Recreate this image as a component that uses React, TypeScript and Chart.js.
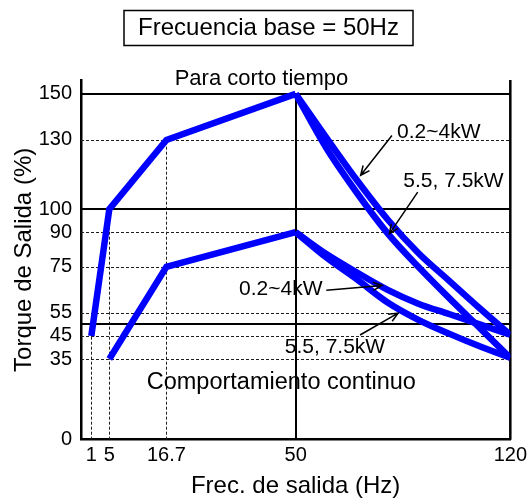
import React, { useEffect, useRef } from 'react';
import { Chart, LinearScale, registerables } from 'chart.js';

// ---------------- data (Hz, torque %) ----------------
const X_TICKS = [1, 5, 16.7, 50, 120];
const Y_TICKS = [0, 35, 45, 55, 75, 90, 100, 130, 150];

const SHORT_RAMP_HZ = [1, 5, 16.7, 50];
const SHORT_RAMP_TQ = [45, 100, 130, 150];
const CONT_RAMP_HZ = [5, 16.7, 50];
const CONT_RAMP_TQ = [35, 75, 90];

const FALL_HZ = [50, 60, 70, 80, 90, 100, 110, 120];
const SHORT_SMALL_TQ = [150, 131, 112.5, 95.5, 81, 69, 57, 45.5]; // 0.2~4kW
const SHORT_LARGE_TQ = [150, 126.5, 107, 89.5, 75, 61.5, 48.5, 35.5]; // 5.5, 7.5kW
const CONT_SMALL_TQ = [90, 80.5, 72.5, 65, 59, 54.5, 50, 45.5]; // 0.2~4kW
const CONT_LARGE_TQ = [90, 79, 69.5, 59.5, 52, 46, 40.5, 35.5]; // 5.5, 7.5kW

// reference lines
const SOLID_Y = [50, 100, 150];
const DOTTED_Y = [35, 45, 55, 75, 90, 130];
const DROP_X = [1, 5, 16.7];
const DROP_TOP = [45, 100, 130];
const BASE_HZ = 50;
const BASE_TOP = 150;
const X_MAX = 120;
const Y_MAX = 156;

// texts
const TITLE = 'Frecuencia base = 50Hz';
const X_TITLE = 'Frec. de salida (Hz)';
const Y_TITLE = 'Torque de Salida (%)';
const LABEL_TEXTS = ['Para corto tiempo', 'Comportamiento continuo', '0.2~4kW', '5.5, 7.5kW', '0.2~4kW', '5.5, 7.5kW'];
const LABEL_HZ = [41.2, 46.3, 83.05, 85.1, 35.4, 47.2];
const LABEL_TQ = [156.6, 24.6, 133.5, 112.1, 65.3, 40.2];
const ARROW_FROM_HZ = [81.4, 89.8, 60.0, 71.0];
const ARROW_FROM_TQ = [131.9, 107.4, 64.8, 45.4];
const ARROW_TO_HZ = [71.2, 80.6, 78.2, 83.4];
const ARROW_TO_TQ = [114.7, 89.4, 66.9, 54.9];

// ---------------- styles ----------------
const FONT = "'Liberation Sans', Arial, Helvetica, sans-serif";
const BLUE = '#0000ff';
const LABEL_SIZES = [22, 23.5, 21, 21, 21, 21];
const LABEL_ALIGN: CanvasTextAlign[] = ['center', 'center', 'left', 'left', 'left', 'left'];

// schematic (non-uniform) frequency axis: knots and their fraction of the axis length
const X_KNOTS = [0, 1, 5, 16.7, 50, 120];
const X_KNOT_FRAC = [0, 0.024, 0.066, 0.199, 0.5, 1];

function hzToFrac(v: number): number {
  if (v <= X_KNOTS[0]) return X_KNOT_FRAC[0];
  for (let i = 1; i < X_KNOTS.length; i++) {
    if (v <= X_KNOTS[i]) {
      const t = (v - X_KNOTS[i - 1]) / (X_KNOTS[i] - X_KNOTS[i - 1]);
      return X_KNOT_FRAC[i - 1] + t * (X_KNOT_FRAC[i] - X_KNOT_FRAC[i - 1]);
    }
  }
  const n = X_KNOTS.length - 1;
  return X_KNOT_FRAC[n] + (v - X_KNOTS[n]) * (X_KNOT_FRAC[n] - X_KNOT_FRAC[n - 1]) / (X_KNOTS[n] - X_KNOTS[n - 1]);
}
function fracToHz(f: number): number {
  for (let i = 1; i < X_KNOT_FRAC.length; i++) {
    if (f <= X_KNOT_FRAC[i]) {
      const t = (f - X_KNOT_FRAC[i - 1]) / (X_KNOT_FRAC[i] - X_KNOT_FRAC[i - 1]);
      return X_KNOTS[i - 1] + t * (X_KNOTS[i] - X_KNOTS[i - 1]);
    }
  }
  return X_KNOTS[X_KNOTS.length - 1];
}

class PiecewiseScale extends LinearScale {
  static id = 'piecewise';
  static defaults = { ...(LinearScale as any).defaults };
  getPixelForValue(value: number) {
    return this.getPixelForDecimal(hzToFrac(value));
  }
  getValueForPixel(pixel: number) {
    return fracToHz(this.getDecimalForPixel(pixel));
  }
}

Chart.register(...registerables, PiecewiseScale as any);

const toPoints = (xs: number[], ys: number[]) => xs.map((x, i) => ({ x, y: ys[i] }));

const schematicPlugin = {
  id: 'schematic',
  beforeDatasetsDraw(chart: any) {
    const { ctx, chartArea: ca, scales } = chart;
    const x = scales.x;
    const y = scales.y;
    const seg = (x1: number, y1: number, x2: number, y2: number) => {
      ctx.beginPath();
      ctx.moveTo(x1, y1);
      ctx.lineTo(x2, y2);
      ctx.stroke();
    };
    ctx.save();
    ctx.strokeStyle = '#1e1e1e';
    ctx.lineWidth = 1;
    ctx.setLineDash([3, 2]);
    DOTTED_Y.forEach((v) => {
      const py = Math.round(y.getPixelForValue(v)) + 0.5;
      seg(ca.left, py, ca.right, py);
    });
    DROP_X.forEach((v, i) => {
      const px = Math.round(x.getPixelForValue(v)) + 0.5;
      seg(px, y.getPixelForValue(0), px, y.getPixelForValue(DROP_TOP[i]));
    });
    ctx.setLineDash([]);
    ctx.strokeStyle = '#000';
    ctx.lineWidth = 2;
    SOLID_Y.forEach((v) => {
      const py = Math.round(y.getPixelForValue(v));
      seg(ca.left, py, ca.right, py);
    });
    const bx = Math.round(x.getPixelForValue(BASE_HZ));
    seg(bx, y.getPixelForValue(0), bx, y.getPixelForValue(BASE_TOP));
    ctx.lineWidth = 2.5;
    const rx = x.getPixelForValue(X_MAX);
    seg(rx, y.getPixelForValue(0), rx, ca.top);
    ctx.restore();
  },
  afterDatasetsDraw(chart: any) {
    const { ctx, scales } = chart;
    const x = scales.x;
    const y = scales.y;
    ctx.save();
    // arrows
    ctx.strokeStyle = '#000';
    ctx.lineWidth = 1.5;
    ARROW_FROM_HZ.forEach((_, i) => {
      const x1 = x.getPixelForValue(ARROW_FROM_HZ[i]);
      const y1 = y.getPixelForValue(ARROW_FROM_TQ[i]);
      const x2 = x.getPixelForValue(ARROW_TO_HZ[i]);
      const y2 = y.getPixelForValue(ARROW_TO_TQ[i]);
      ctx.beginPath();
      ctx.moveTo(x1, y1);
      ctx.lineTo(x2, y2);
      const a = Math.atan2(y2 - y1, x2 - x1);
      const L = 10;
      const s = 0.42;
      ctx.moveTo(x2 - L * Math.cos(a - s), y2 - L * Math.sin(a - s));
      ctx.lineTo(x2, y2);
      ctx.lineTo(x2 - L * Math.cos(a + s), y2 - L * Math.sin(a + s));
      ctx.stroke();
    });
    // labels
    ctx.fillStyle = '#000';
    ctx.textBaseline = 'middle';
    LABEL_TEXTS.forEach((t, i) => {
      ctx.font = `${LABEL_SIZES[i]}px ${FONT}`;
      ctx.textAlign = LABEL_ALIGN[i];
      ctx.fillText(t, x.getPixelForValue(LABEL_HZ[i]), y.getPixelForValue(LABEL_TQ[i]));
    });
    // boxed title
    ctx.lineWidth = 1.5;
    ctx.strokeRect(124, 10.5, 289, 35);
    ctx.font = `24px ${FONT}`;
    ctx.textAlign = 'center';
    ctx.fillText(TITLE, 268.5, 28.5);
    ctx.restore();
  },
};

export default function App() {
  const ref = useRef<HTMLCanvasElement | null>(null);
  useEffect(() => {
    if (!ref.current) return;
    const lineDs = (label: string, data: any[], smooth: boolean) => ({
      label,
      data,
      borderColor: BLUE,
      backgroundColor: BLUE,
      borderWidth: 6.5,
      pointRadius: 0,
      fill: false,
      tension: 0,
      cubicInterpolationMode: smooth ? 'monotone' : 'default',
      borderJoinStyle: 'miter',
      borderCapStyle: 'butt',
    });
    const chart = new Chart(ref.current, {
      type: 'line',
      data: {
        datasets: [
          lineDs('Para corto tiempo', toPoints(SHORT_RAMP_HZ, SHORT_RAMP_TQ), false),
          lineDs('Para corto tiempo 0.2~4kW', toPoints(FALL_HZ, SHORT_SMALL_TQ), true),
          lineDs('Para corto tiempo 5.5, 7.5kW', toPoints(FALL_HZ, SHORT_LARGE_TQ), true),
          lineDs('Comportamiento continuo', toPoints(CONT_RAMP_HZ, CONT_RAMP_TQ), false),
          lineDs('Comportamiento continuo 0.2~4kW', toPoints(FALL_HZ, CONT_SMALL_TQ), true),
          lineDs('Comportamiento continuo 5.5, 7.5kW', toPoints(FALL_HZ, CONT_LARGE_TQ), true),
        ] as any,
      },
      options: {
        animation: false,
        responsive: false,
        devicePixelRatio: 1,
        layout: { padding: { top: 80, right: 18, bottom: 0, left: 0 } },
        plugins: { legend: { display: false }, tooltip: { enabled: false }, title: { display: false } },
        scales: {
          x: {
            type: 'piecewise' as any,
            min: 0,
            max: X_MAX,
            afterBuildTicks: (s: any) => {
              s.ticks = X_TICKS.map((v) => ({ value: v }));
            },
            afterFit: (s: any) => {
              s.height = 58.3;
            },
            ticks: {
              autoSkip: false,
              maxRotation: 0,
              minRotation: 0,
              padding: 4,
              color: '#000',
              font: { size: 20, family: FONT },
              callback: (v: any) => String(v),
            },
            grid: { display: false, drawTicks: false },
            border: { display: true, color: '#000', width: 2.5 },
            title: {
              display: true,
              text: X_TITLE,
              color: '#000',
              font: { size: 24, family: FONT, lineHeight: 1 },
              padding: { top: 0, bottom: 0 },
            },
          } as any,
          y: {
            type: 'linear',
            min: 0,
            max: Y_MAX,
            afterBuildTicks: (s: any) => {
              s.ticks = Y_TICKS.map((v) => ({ value: v }));
            },
            afterFit: (s: any) => {
              s.width = 81;
            },
            ticks: {
              autoSkip: false,
              padding: 9,
              color: '#000',
              font: { size: 20, family: FONT },
              callback: (v: any) => String(v),
            },
            grid: { display: false, drawTicks: false },
            border: { display: true, color: '#000', width: 2.5 },
            title: {
              display: true,
              text: Y_TITLE,
              color: '#000',
              font: { size: 24, family: FONT, lineHeight: 1 },
              padding: { top: 12, bottom: 0 },
            },
          } as any,
        },
      } as any,
      plugins: [schematicPlugin],
    });
    return () => chart.destroy();
  }, []);
  return (
    <div style={{ position: 'fixed', left: 0, top: 0, width: 531, height: 498, background: '#fff' }}>
      <canvas ref={ref} width={531} height={498} style={{ display: 'block', width: 531, height: 498 }} />
    </div>
  );
}
